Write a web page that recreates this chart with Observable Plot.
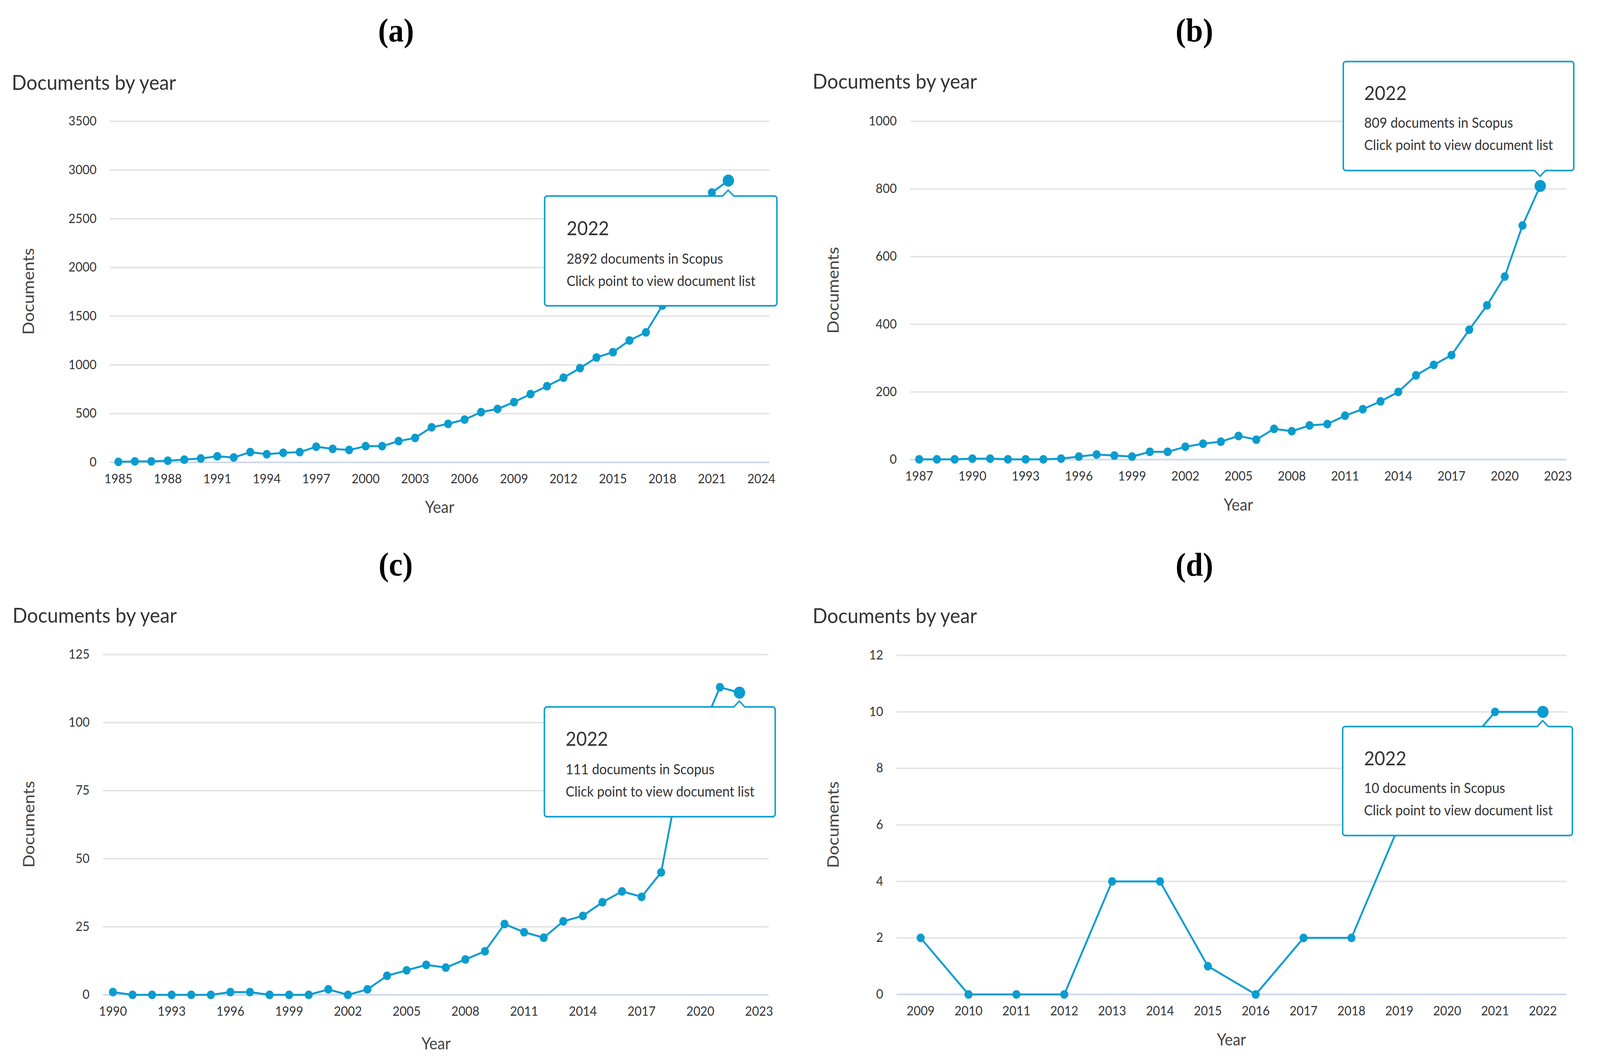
<!DOCTYPE html>
<html>
<head>
<meta charset="utf-8">
<script src="https://cdn.jsdelivr.net/npm/d3@7"></script>
<script src="https://cdn.jsdelivr.net/npm/@observablehq/plot@0.6"></script>
<style>
html, body { margin: 0; padding: 0; background: #fff; overflow: hidden; }
#fig { position: absolute; left: 0; top: 0; width: 4367px; height: 2721px; background: #fff; overflow: hidden; transform-origin: 0 0; }
#fig svg { position: absolute; left: 0; top: 0; }
</style>
</head>
<body>
<div id="fig"></div>
<script>
// ---------- DATA ----------
const yearsA = [1985,1986,1987,1988,1989,1990,1991,1992,1993,1994,1995,1996,1997,1998,1999,2000,2001,2002,2003,2004,2005,2006,2007,2008,2009,2010,2011,2012,2013,2014,2015,2016,2017,2018,2019,2020,2021,2022];
const docsA  = [5,10,10,17,28,40,62,50,105,83,98,105,160,138,127,166,166,218,251,360,395,439,515,548,618,701,782,869,967,1076,1131,1251,1334,1610,1980,2380,2769,2892];
const xTicksA = [1985,1988,1991,1994,1997,2000,2003,2006,2009,2012,2015,2018,2021,2024];
const yTicksA = [0,500,1000,1500,2000,2500,3000,3500];

const yearsB = [1987,1988,1989,1990,1991,1992,1993,1994,1995,1996,1997,1998,1999,2000,2001,2002,2003,2004,2005,2006,2007,2008,2009,2010,2011,2012,2013,2014,2015,2016,2017,2018,2019,2020,2021,2022];
const docsB  = [1,1,1,3,3,1,1,1,3,9,15,12,9,23,23,38,47,53,70,59,91,84,101,105,130,149,172,200,249,280,309,384,456,541,692,809];
const xTicksB = [1987,1990,1993,1996,1999,2002,2005,2008,2011,2014,2017,2020,2023];
const yTicksB = [0,200,400,600,800,1000];

const yearsC = [1990,1991,1992,1993,1994,1995,1996,1997,1998,1999,2000,2001,2002,2003,2004,2005,2006,2007,2008,2009,2010,2011,2012,2013,2014,2015,2016,2017,2018,2019,2020,2021,2022];
const docsC  = [1,0,0,0,0,0,1,1,0,0,0,2,0,2,7,9,11,10,13,16,26,23,21,27,29,34,38,36,45,83,96,113,111];
const xTicksC = [1990,1993,1996,1999,2002,2005,2008,2011,2014,2017,2020,2023];
const yTicksC = [0,25,50,75,100,125];

const yearsD = [2009,2010,2011,2012,2013,2014,2015,2016,2017,2018,2019,2020,2021,2022];
const docsD  = [2,0,0,0,4,4,1,0,2,2,6,8,10,10];
const xTicksD = [2009,2010,2011,2012,2013,2014,2015,2016,2017,2018,2019,2020,2021,2022];
const yTicksD = [0,2,4,6,8,10,12];

const panelLetters = ["(a)", "(b)", "(c)", "(d)"];
const titleText = "Documents by year";
const yLabelText = "Documents";
const xLabelText = "Year";
const tipLine2 = "documents in Scopus";
const tipLine3 = "Click point to view document list";

// ---------- LAYOUT / STYLE ----------
const W = 4367, H = 2721;
const BLUE = "#0a9ccf";
const TEXT = "#333333";
const FONT = "Lato, 'Open Sans', sans-serif";

const panels = [
  { years: yearsA, docs: docsA, xTicks: xTicksA, yTicks: yTicksA, xLast: 2024,
    frame: {l: 300, r: 2100, t: 310, b: 1183},
    letter: {x: 1081, y: 106}, title: {x: 32, y: 230}, ylab: {x: 77, y: 746}, xlab: {x: 1200, y: 1313},
    tip: {dx: -501, dy: 40, w: 634, h: 281, caret: "top", tx: 60, b1: 100, b2: 173, b3: 230} },
  { years: yearsB, docs: docsB, xTicks: xTicksB, yTicks: yTicksB, xLast: 2023,
    frame: {l: 2484, r: 4276, t: 310, b: 1176},
    letter: {x: 3260, y: 106}, title: {x: 2218, y: 227}, ylab: {x: 2273, y: 743}, xlab: {x: 3380, y: 1307},
    tip: {dx: -537, dy: -318, w: 629, h: 279, caret: "bottom", tx: 57, b1: 99, b2: 170, b3: 227} },
  { years: yearsC, docs: docsC, xTicks: xTicksC, yTicks: yTicksC, xLast: 2023,
    frame: {l: 281, r: 2098, t: 1675, b: 2546},
    letter: {x: 1080, y: 1473}, title: {x: 34, y: 1594}, ylab: {x: 78, y: 2110}, xlab: {x: 1190, y: 2686},
    tip: {dx: -532, dy: 37, w: 630, h: 281, caret: "top", tx: 58, b1: 99, b2: 172, b3: 229} },
  { years: yearsD, docs: docsD, xTicks: xTicksD, yTicks: yTicksD, xLast: 2022,
    frame: {l: 2447, r: 4276, t: 1677, b: 2545},
    letter: {x: 3260, y: 1474}, title: {x: 2218, y: 1595}, ylab: {x: 2273, y: 2111}, xlab: {x: 3361, y: 2676},
    tip: {dx: -546, dy: 38, w: 627, h: 279, caret: "top", tx: 58, b1: 99, b2: 170, b3: 227} }
];

const fig = document.getElementById("fig");
const fmt = d3.format("d");

function fitFigure() {
  const vw = window.innerWidth || document.documentElement.clientWidth || W;
  const vh = window.innerHeight || document.documentElement.clientHeight || H;
  fig.style.transform = `scale(${vw / W}, ${vh / H})`;
}
fitFigure();
window.addEventListener("resize", fitFigure);

function calloutPath(x, y, w, h, r, cx, caret, cs) {
  let d = `M${x + r},${y}`;
  if (caret === "top") d += `L${cx - cs},${y}L${cx},${y - cs}L${cx + cs},${y}`;
  d += `L${x + w - r},${y}A${r},${r} 0 0 1 ${x + w},${y + r}`;
  d += `L${x + w},${y + h - r}A${r},${r} 0 0 1 ${x + w - r},${y + h}`;
  if (caret === "bottom") d += `L${cx + cs},${y + h}L${cx},${y + h + cs}L${cx - cs},${y + h}`;
  d += `L${x + r},${y + h}A${r},${r} 0 0 1 ${x},${y + h - r}`;
  d += `L${x},${y + r}A${r},${r} 0 0 1 ${x + r},${y}Z`;
  return d;
}

const anchors = [];

panels.forEach((p, i) => {
  const data = p.years.map((year, k) => ({year, docs: p.docs[k]}));
  const f = p.frame;
  const yMax = p.yTicks[p.yTicks.length - 1];
  const plot = Plot.plot({
    width: W, height: H,
    marginLeft: f.l, marginRight: W - f.r, marginTop: f.t, marginBottom: H - f.b,
    style: {background: "transparent", fontFamily: FONT, fontSize: "33px", color: TEXT, overflow: "visible", maxWidth: "none"},
    x: {type: "linear", domain: [p.years[0] - 0.5, p.xLast + 0.5], ticks: p.xTicks, tickFormat: fmt,
        tickSize: 0, tickPadding: 30, label: null},
    y: {domain: [0, yMax], ticks: p.yTicks, tickFormat: fmt, tickSize: 0, tickPadding: 37, label: null},
    marks: [
      Plot.ruleY(p.yTicks.filter(v => v > 0), {stroke: "#e4e4e4", strokeWidth: 4}),
      Plot.ruleY([0], {stroke: "#ccd6eb", strokeWidth: 4}),
      Plot.line(data, {x: "year", y: "docs", stroke: BLUE, strokeWidth: 5}),
      Plot.dot(data.slice(0, -1), {x: "year", y: "docs", r: 11, fill: BLUE}),
      Plot.dot(data.slice(-1), {x: "year", y: "docs", r: 15.5, fill: BLUE})
    ]
  });
  fig.appendChild(plot);
  const last = data[data.length - 1];
  anchors.push({px: plot.scale("x").apply(last.year), py: plot.scale("y").apply(last.docs), last});
});

// ---------- OVERLAY: titles, labels, tooltips ----------
const svg = d3.select(fig).append("svg")
  .attr("width", W).attr("height", H)
  .style("font-family", FONT);

panels.forEach((p, i) => {
  svg.append("text")
    .attr("x", p.letter.x).attr("y", p.letter.y)
    .attr("text-anchor", "middle")
    .style("font-family", "'Liberation Serif', 'Times New Roman', serif")
    .style("font-weight", "bold").style("font-size", "84px").attr("fill", "#000")
    .text(panelLetters[i]);

  svg.append("text")
    .attr("x", p.title.x).attr("y", p.title.y)
    .style("font-size", "53px").attr("fill", TEXT)
    .text(titleText);

  svg.append("text")
    .attr("transform", `translate(${p.ylab.x},${p.ylab.y}) rotate(-90)`)
    .attr("text-anchor", "middle").attr("dy", "0.36em")
    .style("font-size", "44px").attr("fill", "#444")
    .text(yLabelText);

  svg.append("text")
    .attr("x", p.xlab.x).attr("y", p.xlab.y)
    .attr("text-anchor", "middle")
    .style("font-size", "42px").attr("fill", "#444")
    .text(xLabelText);

  const a = anchors[i], t = p.tip;
  const bx = a.px + t.dx, by = a.py + t.dy;
  svg.append("path")
    .attr("d", calloutPath(bx, by, t.w, t.h, 7, a.px, t.caret, 15))
    .attr("fill", "#fff").attr("stroke", BLUE).attr("stroke-width", 4)
    .attr("stroke-linejoin", "round");
  svg.append("text").attr("x", bx + t.tx).attr("y", by + t.b1)
    .style("font-size", "50px").attr("fill", TEXT).text(String(a.last.year));
  svg.append("text").attr("x", bx + t.tx).attr("y", by + t.b2)
    .style("font-size", "36px").attr("fill", TEXT).text(`${a.last.docs} ${tipLine2}`);
  svg.append("text").attr("x", bx + t.tx).attr("y", by + t.b3)
    .style("font-size", "36px").attr("fill", TEXT).text(tipLine3);
});
</script>
</body>
</html>
